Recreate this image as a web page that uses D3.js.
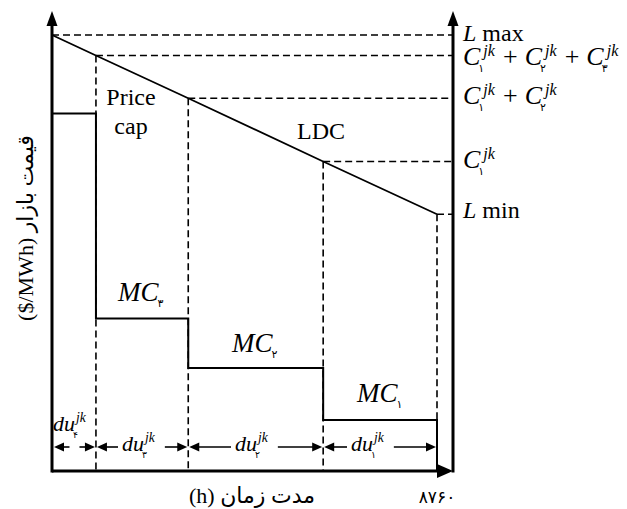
<!DOCTYPE html>
<html>
<head>
<meta charset="utf-8">
<script src="https://cdn.jsdelivr.net/npm/d3@7"></script>
<style>
  html, body { margin: 0; padding: 0; background: #fff; }
  svg { display: block; }
</style>
</head>
<body>
<svg id="chart" width="627" height="509"></svg>
<script>
// Segment boundaries along the year (hours)
const hours = [0, 1000, 3100, 6170, 8760];
// Load-duration curve level at each boundary (Lmax ... Lmin)
const ldcLevels = [100, 95.3, 85.5, 71.0, 58.9];
// Stepped marginal-cost curve per segment: price cap, MC3, MC2, MC1
const stepLevels = [82, 35, 23.6, 11.7];
// Labels
const stepLabels = [null, "\u06F3", "\u06F2", "\u06F1"];          // MC subscripts
const durationSubs = ["\u06F4", "\u06F3", "\u06F2", "\u06F1"];    // du subscripts
const capacityTerms = [
  ["\u06F1", "\u06F2", "\u06F3"],
  ["\u06F1", "\u06F2"],
  ["\u06F1"]
];
const xEndLabel = "\u06F8\u06F7\u06F6\u06F0";
const xTitle = "(h) \u0645\u062F\u062A \u0632\u0645\u0627\u0646";
const yTitle = "($/MWh) \u0642\u06CC\u0645\u062A \u0628\u0627\u0632\u0627\u0631";

const SERIF = "Liberation Serif, Tinos, Times New Roman, serif";
const FA = "DejaVu Sans, Noto Sans, sans-serif";
const MIXED = "Liberation Serif, DejaVu Sans, serif";

const svg = d3.select("#chart");
const x = d3.scaleLinear().domain([0, 8760]).range([52, 437]);
const y = d3.scaleLinear().domain([0, 100]).range([471, 35]);
const xRight = x(8760) + 16;
const x0 = x(0), yBase = y(0);
const dash = "7,4";

const g = svg.append("g");

// Horizontal dashed guides from the LDC to the right axis
hours.forEach((h, i) => {
  g.append("line")
    .attr("x1", x(h)).attr("x2", xRight)
    .attr("y1", y(ldcLevels[i])).attr("y2", y(ldcLevels[i]))
    .attr("stroke", "#000").attr("stroke-width", 1.6)
    .attr("stroke-dasharray", dash);
});
// Vertical dashed guides from the LDC down to the time axis
hours.slice(1).forEach((h, k) => {
  g.append("line")
    .attr("x1", x(h)).attr("x2", x(h))
    .attr("y1", y(ldcLevels[k + 1])).attr("y2", yBase)
    .attr("stroke", "#000").attr("stroke-width", 1.6)
    .attr("stroke-dasharray", dash);
});

// Load-duration curve
g.append("path")
  .datum(hours.map((h, i) => [h, ldcLevels[i]]))
  .attr("d", d3.line().x(d => x(d[0])).y(d => y(d[1])))
  .attr("fill", "none").attr("stroke", "#000").attr("stroke-width", 1.8);

// Stepped price curve
const stepPts = [];
stepLevels.forEach((v, i) => {
  stepPts.push([hours[i], v]);
  stepPts.push([hours[i + 1], v]);
});
stepPts.push([hours[4], 0]);
g.append("path")
  .datum(stepPts)
  .attr("d", d3.line().x(d => x(d[0])).y(d => y(d[1])))
  .attr("fill", "none").attr("stroke", "#000").attr("stroke-width", 2);

// Axes
const axisW = 3;
g.append("line").attr("x1", x0).attr("x2", x0).attr("y1", yBase + 1.5).attr("y2", 24)
  .attr("stroke", "#000").attr("stroke-width", axisW);
g.append("line").attr("x1", xRight).attr("x2", xRight).attr("y1", yBase + 1.5).attr("y2", 24)
  .attr("stroke", "#000").attr("stroke-width", axisW);
g.append("line").attr("x1", x0).attr("x2", x(8760)).attr("y1", yBase).attr("y2", yBase)
  .attr("stroke", "#000").attr("stroke-width", axisW);
function tri(tx, ty, dir, len, hw) {
  let p;
  if (dir === "up") p = [[tx, ty], [tx - hw, ty + len], [tx + hw, ty + len]];
  else if (dir === "right") p = [[tx, ty], [tx - len, ty - hw], [tx - len, ty + hw]];
  else p = [[tx, ty], [tx + len, ty - hw], [tx + len, ty + hw]];
  g.append("path").attr("d", "M" + p.map(d => d.join(",")).join("L") + "Z").attr("fill", "#000");
}
tri(x0, 11, "up", 15, 5.5);
tri(xRight, 11, "up", 15, 5.5);
tri(xRight, yBase, "right", 16, 7);

// Text helpers
function serifText(tx, ty, size, italic) {
  return g.append("text").style("font-family", SERIF).attr("x", tx).attr("y", ty)
    .style("font-size", size + "px").style("font-style", italic ? "italic" : "normal");
}
// Symbol with stacked subscript (Persian digit) and superscript "jk"
function term(tx, ty, base, sub, size, supGap) {
  const t = serifText(tx, ty, size, true).text(base);
  const w = t.node().getComputedTextLength();
  const s = g.append("text").style("font-family", FA).attr("x", tx + w - 2).attr("y", ty + 7)
    .style("font-size", (size * 0.42) + "px").text(sub);
  const p = serifText(tx + w + supGap, ty - 9, size * 0.62, true).text("jk");
  const ws = s.node().getComputedTextLength();
  const wp = p.node().getComputedTextLength();
  return tx + w + Math.max(ws - 2, wp + supGap);
}

// Right-axis labels
const lx = 463;
serifText(lx, 41, 24, true).text("L").append("tspan").style("font-style", "normal").text(" max");
const capBaselines = [65, 104, 168];
capacityTerms.forEach((subs, r) => {
  let cx = lx;
  subs.forEach((s, k) => {
    cx = term(cx, capBaselines[r], "C", s, 26, 3);
    if (k < subs.length - 1) {
      const plus = serifText(cx + 8, capBaselines[r], 26, false).text("+");
      cx += 8 + plus.node().getComputedTextLength() + 7;
    }
  });
});
serifText(lx, 218, 24, true).text("L").append("tspan").style("font-style", "normal").text(" min");

// Curve labels
serifText(131, 105, 24, false).attr("text-anchor", "middle").text("Price");
serifText(131, 134, 24, false).attr("text-anchor", "middle").text("cap");
serifText(297, 139, 24, false).text("LDC");

// MC labels above each step
const mcPos = [null, [118, 301], [232, 352], [357, 402]];
stepLabels.forEach((s, i) => {
  if (!s) return;
  const t = serifText(mcPos[i][0], mcPos[i][1], 27, true).text("MC");
  const w = t.node().getComputedTextLength();
  g.append("text").style("font-family", FA).attr("x", mcPos[i][0] + w - 1).attr("y", mcPos[i][1] + 6)
    .style("font-size", "11px").text(s);
});

// Duration arrows and labels
const arrowY = 447;
function arrow(xFrom, xTo) {
  g.append("line").attr("x1", xFrom).attr("x2", xTo + (xTo > xFrom ? -6 : 6))
    .attr("y1", arrowY).attr("y2", arrowY).attr("stroke", "#000").attr("stroke-width", 1.6);
  tri(xTo, arrowY, xTo > xFrom ? "right" : "left", 10, 4.5);
}
durationSubs.forEach((s, i) => {
  const a = x(hours[i]) + (i === 0 ? 2 : 1), b = x(hours[i + 1]) - 1;
  if (i === 0) {
    term(53, 431, "du", s, 22, 1);
    const m = (a + b) / 2;
    arrow(m - 5, a);
    arrow(m + 5, b);
  } else {
    const start = [0, 122, 235, 351][i];
    const end = term(start, 451, "du", s, 22, 1);
    arrow(start - 4, a);
    arrow(end + 10, b);
  }
});

// Axis titles
g.append("text").style("font-family", MIXED).attr("x", 252).attr("y", 503)
  .style("font-size", "22px").attr("text-anchor", "middle").text(xTitle);
g.append("text").style("font-family", FA).attr("x", x(8760)).attr("y", 503)
  .style("font-size", "17px").attr("text-anchor", "middle").text(xEndLabel);
g.append("text").style("font-family", MIXED)
  .attr("transform", "translate(33,228) rotate(-90)")
  .style("font-size", "22px").attr("text-anchor", "middle").text(yTitle);
</script>
</body>
</html>
